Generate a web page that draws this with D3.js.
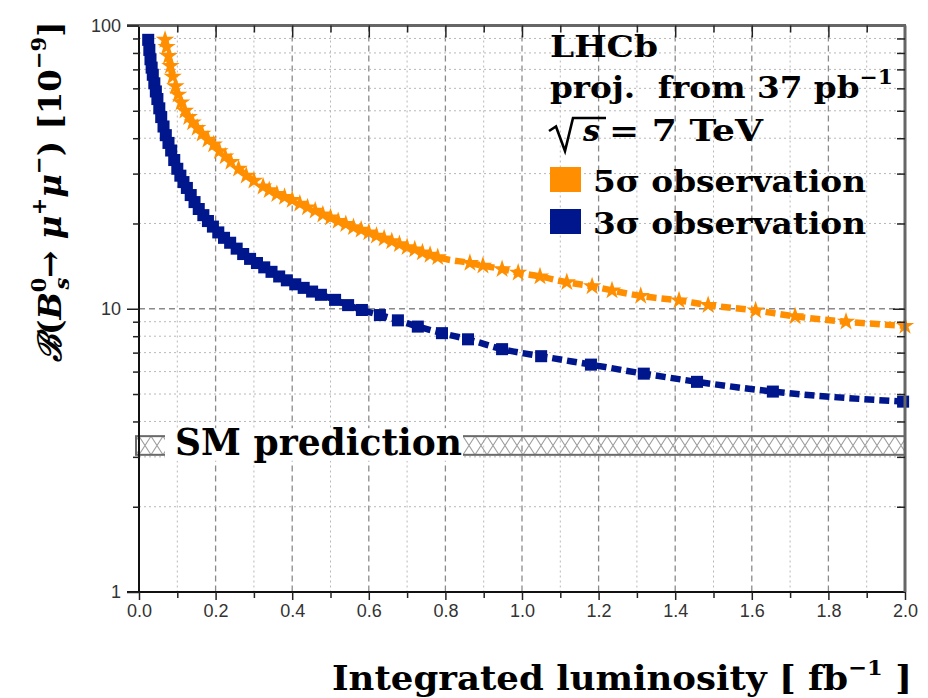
<!DOCTYPE html>
<html><head><meta charset="utf-8">
<script src="https://cdn.jsdelivr.net/npm/d3@7"></script>
<style>body{margin:0;background:#fff} text{white-space:pre}</style>
</head><body>
<svg id="c" width="928" height="698"></svg>
<script>
// ---- data ----
const lumi5 = [0.068,0.072,0.077,0.082,0.088,0.095,0.102,0.11,0.12,0.13,0.14,0.152,0.165,0.18,0.195,0.21,0.225,0.24,0.26,0.28,0.30,0.324,0.34,0.36,0.38,0.40,0.42,0.44,0.46,0.48,0.50,0.52,0.54,0.56,0.58,0.60,0.62,0.64,0.66,0.68,0.70,0.72,0.74,0.76,0.78,0.864,0.898,0.948,0.99,1.047,1.117,1.183,1.235,1.31,1.41,1.486,1.61,1.713,1.846,2.0];
const br5   = [89,84,78,72,66,61,57,53.5,50,47.5,45.5,43.5,41.5,39.5,38,36,34.5,33,31.2,29.5,28.3,27.0,26.2,25.4,24.8,24.2,23.5,22.8,22.2,21.5,21.0,20.4,19.9,19.4,19.0,18.6,18.1,17.7,17.3,16.9,16.5,16.2,15.8,15.5,15.2,14.5,14.2,13.8,13.4,13.0,12.4,12.0,11.6,11.1,10.7,10.3,9.86,9.4,9.0,8.7];
const lumi3 = [0.024,0.027,0.03,0.033,0.036,0.04,0.044,0.048,0.053,0.058,0.064,0.07,0.077,0.084,0.092,0.1,0.108,0.116,0.125,0.135,0.145,0.156,0.168,0.18,0.193,0.207,0.222,0.238,0.255,0.272,0.29,0.308,0.327,0.346,0.366,0.386,0.408,0.43,0.452,0.475,0.512,0.546,0.582,0.629,0.676,0.728,0.791,0.859,0.948,1.05,1.18,1.318,1.457,1.655,1.995];
const br3   = [89,82,76,71,67,62.5,58.5,55,51,47.5,44,41,38.5,36.2,33.5,31.2,29.5,28.0,26.7,25.2,23.8,22.5,21.4,20.4,19.5,18.6,17.8,17.1,16.3,15.6,15.0,14.5,14.0,13.5,13.0,12.6,12.2,11.85,11.5,11.2,10.75,10.3,9.9,9.5,9.1,8.65,8.2,7.8,7.2,6.8,6.35,5.9,5.52,5.1,4.7];
const xTickValues = [0,0.2,0.4,0.6,0.8,1.0,1.2,1.4,1.6,1.8,2.0];
const xTickLabels = ["0.0","0.2","0.4","0.6","0.8","1.0","1.2","1.4","1.6","1.8","2.0"];
const yTickValues = [1,10,100];
const yTickLabels = ["1","10","100"];
const smBand = [3.05, 3.55];
const seriesNames = ["5σ observation","3σ observation"];
const seriesColors = ["#ff8f00","#00168c"];

// ---- layout ----
const svg = d3.select("#c");
const L = 139, R = 905, T = 25.5, B = 592;
const x = d3.scaleLinear().domain([0,2]).range([L,R]);
const y = d3.scaleLog().domain([1,100]).range([B,T]);

const xMinor = d3.range(1,20).map(i=>i/10).filter(v=>Math.round(v*10)%2===1);
const xMajorInner = xTickValues.slice(1,-1);
const yMinor = [];
[1,10].forEach(d=>{for(let k=2;k<=9;k++) yMinor.push(d*k);});

// grid
const g = svg.append("g");
g.selectAll(".gxm").data(xMinor).join("line")
  .attr("x1",d=>x(d)).attr("x2",d=>x(d)).attr("y1",T).attr("y2",B)
  .attr("stroke","#b8b8b8").attr("stroke-width",1).attr("stroke-dasharray","2,3");
g.selectAll(".gxM").data(xMajorInner).join("line")
  .attr("x1",d=>x(d)).attr("x2",d=>x(d)).attr("y1",T).attr("y2",B)
  .attr("stroke","#8a8a8a").attr("stroke-width",1.3).attr("stroke-dasharray","6,4");
g.selectAll(".gym").data(yMinor).join("line")
  .attr("y1",d=>y(d)).attr("y2",d=>y(d)).attr("x1",L).attr("x2",R)
  .attr("stroke","#b8b8b8").attr("stroke-width",1).attr("stroke-dasharray","2,3");
g.selectAll(".gyM").data([10]).join("line")
  .attr("y1",d=>y(d)).attr("y2",d=>y(d)).attr("x1",L).attr("x2",R)
  .attr("stroke","#8a8a8a").attr("stroke-width",1.3).attr("stroke-dasharray","6,4");

// SM band
const defs = svg.append("defs");
const bTop = y(smBand[1]), bBot = y(smBand[0]), bh = bBot-bTop;
const pat = defs.append("pattern").attr("id","hatch").attr("patternUnits","userSpaceOnUse")
  .attr("x",L).attr("y",bTop).attr("width",12).attr("height",bh);
pat.append("path").attr("d",`M0,0L12,${bh}M12,0L0,${bh}`).attr("stroke","#9a9a9a").attr("stroke-width",1).attr("fill","none");
svg.append("rect").attr("x",x(0)-3).attr("y",bTop).attr("width",x(2)-x(0)+3).attr("height",bh)
  .attr("fill","url(#hatch)").attr("stroke","#6a6a6a").attr("stroke-width",2);
svg.append("rect").attr("x",165).attr("y",bTop-8).attr("width",298).attr("height",bh+14).attr("fill","#fff");
svg.append("text").attr("x",175).attr("y",bBot).attr("font-family","DejaVu Serif").attr("font-weight","bold")
  .attr("font-size",37).attr("textLength",287).attr("lengthAdjust","spacingAndGlyphs").attr("fill","#000").text("SM prediction");

// curves
const line = d3.line().x(d=>x(d[0])).y(d=>y(d[1])).curve(d3.curveMonotoneX);
const d5 = lumi5.map((v,i)=>[v,br5[i]]);
const d3s = lumi3.map((v,i)=>[v,br3[i]]);
[[d3s,seriesColors[1]],[d5,seriesColors[0]]].forEach(([d,c])=>{
  svg.append("path").attr("d",line(d)).attr("fill","none").attr("stroke",c).attr("stroke-width",6.5).attr("stroke-dasharray","10,5");
});
svg.append("g").selectAll("path").data(d3s).join("path")
  .attr("transform",d=>`translate(${x(d[0])},${y(d[1])})`)
  .attr("d",d3.symbol(d3.symbolSquare).size(145)).attr("fill",seriesColors[1]);
svg.append("g").selectAll("path").data(d5).join("path")
  .attr("transform",d=>`translate(${x(d[0])},${y(d[1])})`)
  .attr("d",d3.symbol(d3.symbolStar).size(105)).attr("fill",seriesColors[0]);

// frame
svg.append("line").attr("x1",L).attr("x2",L).attr("y1",T).attr("y2",B).attr("stroke","#111").attr("stroke-width",2);
svg.append("line").attr("x1",L-12).attr("x2",R).attr("y1",B).attr("y2",B).attr("stroke","#111").attr("stroke-width",2);
svg.append("line").attr("x1",L-12).attr("x2",R+1).attr("y1",T).attr("y2",T).attr("stroke","#666").attr("stroke-width",3);
svg.append("line").attr("x1",R).attr("x2",R).attr("y1",T).attr("y2",B).attr("stroke","#666").attr("stroke-width",3);

// axes (ticks)
const axStyle = s=>{s.select(".domain").remove(); s.selectAll("line").attr("stroke","#222").attr("stroke-width",1.5);};
svg.append("g").attr("transform",`translate(${L},0)`)
  .call(d3.axisLeft(y).tickValues(yTickValues).tickSize(12).tickPadding(6).tickFormat((d,i)=>yTickLabels[i]))
  .call(axStyle)
  .call(s=>s.selectAll("text").attr("font-family","Liberation Sans, Arial").attr("font-size",18).attr("fill","#333"));
svg.append("g").attr("transform",`translate(${L},0)`)
  .call(d3.axisLeft(y).tickValues(yMinor).tickSize(6).tickFormat("")).call(axStyle);
svg.append("g").attr("transform",`translate(${R},0)`)
  .call(d3.axisLeft(y).tickValues([10]).tickSize(12).tickFormat("")).call(axStyle);
svg.append("g").attr("transform",`translate(${R},0)`)
  .call(d3.axisLeft(y).tickValues(yMinor).tickSize(8).tickFormat("")).call(axStyle);
svg.append("g").attr("transform",`translate(0,${B})`)
  .call(d3.axisBottom(x).tickValues(xTickValues).tickSize(8).tickPadding(4).tickFormat((d,i)=>xTickLabels[i]))
  .call(axStyle)
  .call(s=>s.selectAll("text").attr("font-family","Liberation Sans, Arial").attr("font-size",18).attr("fill","#333"));
svg.append("g").attr("transform",`translate(0,${B})`)
  .call(d3.axisBottom(x).tickValues(xMinor).tickSize(6).tickFormat("")).call(axStyle);
svg.append("g").attr("transform",`translate(0,${T})`)
  .call(d3.axisBottom(x).tickValues(xMajorInner).tickSize(12).tickFormat("")).call(axStyle);
svg.append("g").attr("transform",`translate(0,${T})`)
  .call(d3.axisBottom(x).tickValues(xMinor).tickSize(7).tickFormat("")).call(axStyle);

// legend / labels
const serif = "DejaVu Serif";
function t(xp,yp,size,len){const e = svg.append("text").attr("x",xp).attr("y",yp).attr("font-family",serif)
  .attr("font-weight","bold").attr("font-size",size).attr("fill","#000");
  if(len) e.attr("textLength",len).attr("lengthAdjust","spacingAndGlyphs"); return e;}
t(550,57,30,108).text("LHCb");
const p = t(550,98,30,343);
p.append("tspan").text("proj.\u00a0\u00a0from 37 pb");
p.append("tspan").attr("dy",-14).attr("font-size",20).text("−1");
// radical sign for sqrt(s)
svg.append("path").attr("d","M549,131 L556,126.5 L565,151 L573,118 L606,118")
  .attr("fill","none").attr("stroke","#000").attr("stroke-width",2.6).attr("stroke-linejoin","miter");
t(583,141,30).attr("font-style","italic").text("s");
t(609,141,30,154).text("= 7 TeV");
const legY = [192,234];
svg.append("g").selectAll("rect").data(seriesNames).join("rect")
  .attr("x",550).attr("y",(d,i)=>legY[i]-25).attr("width",31).attr("height",25).attr("fill",(d,i)=>seriesColors[i]);
svg.append("g").selectAll("text").data(seriesNames).join("text")
  .attr("x",593).attr("y",(d,i)=>legY[i]).attr("font-family",serif).attr("font-weight","bold").attr("font-size",30)
  .attr("textLength",273).attr("lengthAdjust","spacingAndGlyphs").text(d=>d);

// x title
const xt = t(332,690,33,580);
xt.append("tspan").text("Integrated luminosity [ fb");
xt.append("tspan").attr("dy",-15).attr("font-size",21).text("−1");
xt.append("tspan").attr("dy",15).text(" ]");

// y title
const yt = svg.append("text").attr("transform","translate(61,362) rotate(-90)")
  .attr("font-family",serif).attr("font-weight","bold").attr("font-size",32.5).attr("fill","#000");
yt.append("tspan").attr("font-style","italic").text("ℬ");
yt.append("tspan").text("(");
yt.append("tspan").attr("font-style","italic").text("B");
yt.append("tspan").attr("font-size",21).attr("dy",-15).text("0");
yt.append("tspan").attr("font-size",21).attr("font-style","italic").attr("dx",-12).attr("dy",23).text("s");
yt.append("tspan").attr("dy",-8).text("→ ");
yt.append("tspan").attr("font-style","italic").text("μ");
yt.append("tspan").attr("font-size",21).attr("dy",-15).text("+");
yt.append("tspan").attr("font-style","italic").attr("dy",15).text("μ");
yt.append("tspan").attr("font-size",21).attr("dy",-15).text("−");
yt.append("tspan").attr("dy",15).text(") [10");
yt.append("tspan").attr("font-size",21).attr("dy",-15).text("−9");
yt.append("tspan").attr("dy",15).text("]");
</script>
</body></html>
